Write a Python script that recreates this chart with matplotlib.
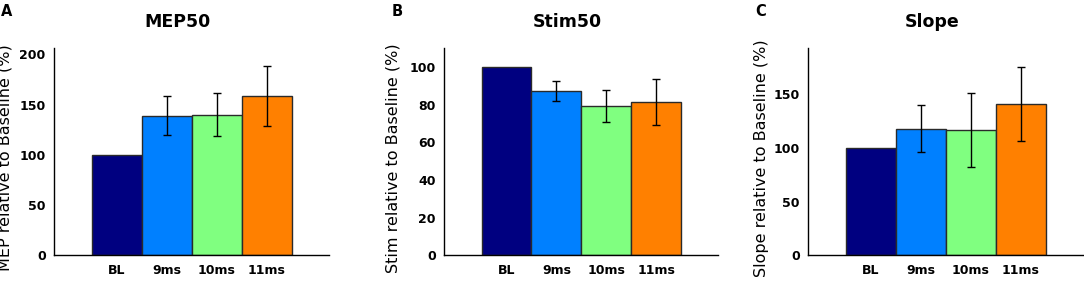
import matplotlib
matplotlib.use("Agg")
import matplotlib.pyplot as plt

# conditions and colours
conditions = ["BL", "9ms", "10ms", "11ms"]
bar_colors = ["#000080", "#0080ff", "#80ff80", "#ff8000"]

# values (mean, error bar half-length)
mep_mean = [100, 139, 140, 158.5]
mep_err = [0, 19.5, 21.5, 29.5]
stim_mean = [100, 87.2, 79.2, 81.4]
stim_err = [0, 5.2, 8.6, 12.2]
slope_mean = [100, 118, 117, 141]
slope_err = [0, 22, 34.6, 34.5]

panels = [
    ("A", "MEP50", "MEP relative to Baseline (%)", mep_mean, mep_err, 206, [0, 50, 100, 150, 200]),
    ("B", "Stim50", "Stim relative to Baseline (%)", stim_mean, stim_err, 110, [0, 20, 40, 60, 80, 100]),
    ("C", "Slope", "Slope relative to Baseline (%)", slope_mean, slope_err, 193, [0, 50, 100, 150]),
]

W, H = 1084, 283
fig = plt.figure(figsize=(W / 100, H / 100), dpi=100)

lefts = [54, 444.3, 808.3]
rights = [329, 718.3, 1083]
label_off = [41, 44, 39]  # px from spine to ylabel baseline
bottom_px, top_px = 255.3, 48.3

for i, (letter, title, ylabel, means, errs, ymax, yticks) in enumerate(panels):
    l, r = lefts[i], rights[i]
    ax = fig.add_axes([l / W, 1 - bottom_px / H, (r - l) / W, (bottom_px - top_px) / H])
    x = list(range(1, len(conditions) + 1))
    ax.bar(x, means, width=1.0, color=bar_colors, edgecolor="#2a2a2a", linewidth=1.0, zorder=2)
    ex = [xi for xi, e in zip(x, errs) if e > 0]
    em = [m for m, e in zip(means, errs) if e > 0]
    ee = [e for e in errs if e > 0]
    ax.errorbar(ex, em, yerr=ee, fmt="none", ecolor="black", elinewidth=1.0, capsize=2.6, capthick=1.0, zorder=3)
    ax.set_xlim(-0.25, 5.25)
    ax.set_ylim(0, ymax)
    ax.set_yticks(yticks)
    ax.set_xticks(x)
    ax.set_xticklabels(conditions)
    ax.tick_params(length=0, labelsize=9, pad=6)
    for lab in ax.get_xticklabels() + ax.get_yticklabels():
        lab.set_fontweight("bold")
    for s in ["top", "right"]:
        ax.spines[s].set_visible(False)
    for s in ["left", "bottom"]:
        ax.spines[s].set_linewidth(1.0)
    ax.set_ylabel(ylabel, fontsize=11.5)
    ax.yaxis.set_label_coords(-label_off[i] / (r - l), 0.47)
    ax.set_title(title, fontsize=12.5, fontweight="bold", x=0.45, pad=15)
    fig.text((l - 53) / W, 1 - 11 / H, letter, fontsize=10.5, fontweight="bold", va="center", ha="left")

fig.savefig("out.png", dpi=100)
